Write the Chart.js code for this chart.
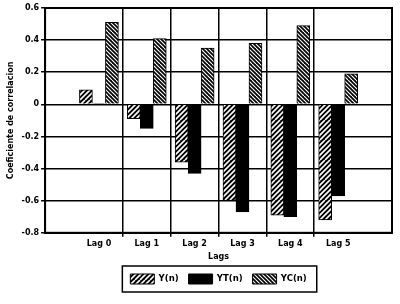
<!DOCTYPE html>
<html><head><meta charset="utf-8">
<script src="https://cdn.jsdelivr.net/npm/chart.js@4"></script>
<style>html,body{margin:0;padding:0;background:#fff}canvas{display:block}</style>
</head><body>
<canvas id="c" width="400" height="304"></canvas>
<script>
const categories = ['Lag 0','Lag 1','Lag 2','Lag 3','Lag 4','Lag 5'];
const seriesNames = ['Y(n)','YT(n)','YC(n)'];
const valuesY  = [0.09, -0.09, -0.36, -0.60, -0.69, -0.72];
const valuesYT = [0.005, -0.15, -0.43, -0.67, -0.70, -0.57];
const valuesYC = [0.51, 0.41, 0.35, 0.38, 0.49, 0.19];
const yTicks = [0.6, 0.4, 0.2, 0, -0.2, -0.4, -0.6, -0.8];

function hatch(dir, spacing, lw){
  const s = spacing*4;
  const c = document.createElement('canvas'); c.width = s; c.height = s;
  const g = c.getContext('2d');
  g.fillStyle = '#000'; g.fillRect(0,0,s,s);
  g.strokeStyle = '#fff'; g.lineWidth = lw;
  for (let k=-s; k<=2*s; k+=spacing){
    g.beginPath();
    if (dir>0){ g.moveTo(k, s); g.lineTo(k+s, 0); }
    else { g.moveTo(k, 0); g.lineTo(k+s, s); }
    g.stroke();
  }
  return document.getElementById('c').getContext('2d').createPattern(c,'repeat');
}
const patY = hatch(1, 5, 1.6);
const patYC = hatch(-1, 4, 1.1);

const toPts = arr => arr.map((v,i)=>({x:i, y:v}));
const font = {family:'"DejaVu Sans", sans-serif', weight:'bold', size:8};

const frame = {
  id:'frame',
  afterDraw(chart){
    const ctx = chart.ctx, a = chart.chartArea;
    ctx.save(); ctx.strokeStyle='#000'; ctx.lineWidth=2;
    ctx.strokeRect(a.left, a.top, a.right-a.left, a.bottom-a.top);
    const hb = chart.legend.legendHitBoxes;
    if (hb && hb.length){
      let l=Infinity,r=-Infinity,t=Infinity,b=-Infinity;
      hb.forEach(h=>{l=Math.min(l,h.left);r=Math.max(r,h.left+h.width);t=Math.min(t,h.top);b=Math.max(b,h.top+h.height);});
      ctx.lineWidth=1.5;
      ctx.strokeRect(l-8, t-8, r-l+18, b-t+16);
    }
    ctx.restore();
  }
};

new Chart(document.getElementById('c'), {
  type:'bar',
  data:{
    datasets:[
      {label:seriesNames[0], data:toPts(valuesY), backgroundColor:patY, borderColor:'#000', borderWidth:1},
      {label:seriesNames[1], data:toPts(valuesYT), backgroundColor:'#000', borderColor:'#000', borderWidth:1},
      {label:seriesNames[2], data:toPts(valuesYC), backgroundColor:patYC, borderColor:'#000', borderWidth:1}
    ]
  },
  options:{
    responsive:false, animation:false, devicePixelRatio:1,
    layout:{padding:{left:6, right:8, top:8, bottom:10}},
    datasets:{bar:{barThickness:13, grouped:true}},
    scales:{
      x:{
        type:'linear', min:-1.125, max:6.125, offset:false,
        afterBuildTicks(s){ const t=[]; for(let i=0;i<categories.length;i++){ t.push({value:i}); if(i<categories.length-1) t.push({value:i+0.5}); } s.ticks=t; },
        ticks:{autoSkip:false, maxRotation:0, color:'#000', font, padding:2,
          callback:(v)=> Number.isInteger(v) ? categories[v] : ''},
        grid:{offset:false, color:(c)=> (c.tick && Number.isInteger(c.tick.value)) ? 'rgba(0,0,0,0)' : '#000', lineWidth:1.5, tickLength:4},
        border:{display:true, color:'#000', width:2},
        title:{display:true, text:'Lags', color:'#000', font, padding:{top:2,bottom:2}}
      },
      y:{
        min:-0.8, max:0.6,
        afterBuildTicks(s){ s.ticks = yTicks.map(v=>({value:v})); },
        ticks:{color:'#000', font:{...font, size:8}, padding:2, callback:(v)=> v===0 ? '0' : v.toFixed(1)},
        grid:{color:'#000', lineWidth:1.5, tickLength:4},
        border:{display:true, color:'#000', width:2},
        title:{display:true, text:'Coeficiente de correlacion', color:'#000', font, padding:{top:0,bottom:4}}
      }
    },
    plugins:{
      legend:{position:'bottom', fullSize:false,
        labels:{color:'#000', font:{...font, size:8.5}, boxWidth:24, boxHeight:10, padding:10}},
      tooltip:{enabled:false}
    }
  },
  plugins:[frame]
});
</script>
</body></html>
